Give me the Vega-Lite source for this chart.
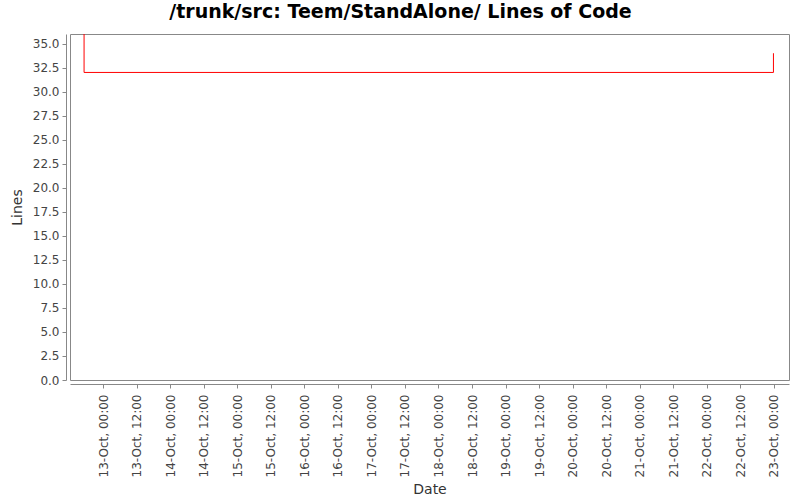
{
  "$schema": "https://vega.github.io/schema/vega-lite/v6.json",
  "width": 719,
  "height": 346,
  "autosize": "none",
  "padding": {"left": 70, "top": 34, "right": 11, "bottom": 120},
  "background": "white",
  "title": {
    "text": "/trunk/src: Teem/StandAlone/ Lines of Code",
    "font": "DejaVu Sans",
    "fontSize": 19,
    "fontWeight": "bold",
    "color": "black",
    "anchor": "middle",
    "frame": "group",
    "dx": -29,
    "offset": 12
  },
  "config": {
    "view": {"stroke": "#888888", "strokeWidth": 1},
    "axis": {
      "labelFont": "DejaVu Sans",
      "labelFontSize": 12,
      "labelColor": "#444444",
      "titleFont": "DejaVu Sans",
      "titleFontSize": 14,
      "titleFontWeight": "normal",
      "titleColor": "#333333",
      "domainColor": "#888888",
      "tickColor": "#888888",
      "tickSize": 4,
      "grid": false,
      "offset": 4
    }
  },
  "data": {
    "values": [
      {"date": "2008-10-12T17:10:00Z", "lines": 36},
      {"date": "2008-10-12T17:12:00Z", "lines": 32},
      {"date": "2008-10-22T23:50:00Z", "lines": 34}
    ]
  },
  "mark": {"type": "line", "interpolate": "step-after", "color": "#ff0000", "strokeWidth": 1, "clip": true},
  "encoding": {
    "x": {
      "field": "date",
      "type": "temporal",
      "title": "Date",
      "scale": {
        "type": "utc",
        "domain": [
          {"year": 2008, "month": 10, "date": 12, "hours": 12, "minutes": 10, "utc": true},
          {"year": 2008, "month": 10, "date": 23, "hours": 5, "minutes": 24, "utc": true}
        ]
      },
      "axis": {
        "labelExpr": "utcFormat(datum.value, '%d-%b, %H:%M')",
        "labelAngle": 270,
        "labelAlign": "right",
        "labelBaseline": "middle",
        "labelPadding": 6,
        "titlePadding": 6,
        "values": [
          {"year": 2008, "month": 10, "date": 13, "hours": 0, "utc": true},
          {"year": 2008, "month": 10, "date": 13, "hours": 12, "utc": true},
          {"year": 2008, "month": 10, "date": 14, "hours": 0, "utc": true},
          {"year": 2008, "month": 10, "date": 14, "hours": 12, "utc": true},
          {"year": 2008, "month": 10, "date": 15, "hours": 0, "utc": true},
          {"year": 2008, "month": 10, "date": 15, "hours": 12, "utc": true},
          {"year": 2008, "month": 10, "date": 16, "hours": 0, "utc": true},
          {"year": 2008, "month": 10, "date": 16, "hours": 12, "utc": true},
          {"year": 2008, "month": 10, "date": 17, "hours": 0, "utc": true},
          {"year": 2008, "month": 10, "date": 17, "hours": 12, "utc": true},
          {"year": 2008, "month": 10, "date": 18, "hours": 0, "utc": true},
          {"year": 2008, "month": 10, "date": 18, "hours": 12, "utc": true},
          {"year": 2008, "month": 10, "date": 19, "hours": 0, "utc": true},
          {"year": 2008, "month": 10, "date": 19, "hours": 12, "utc": true},
          {"year": 2008, "month": 10, "date": 20, "hours": 0, "utc": true},
          {"year": 2008, "month": 10, "date": 20, "hours": 12, "utc": true},
          {"year": 2008, "month": 10, "date": 21, "hours": 0, "utc": true},
          {"year": 2008, "month": 10, "date": 21, "hours": 12, "utc": true},
          {"year": 2008, "month": 10, "date": 22, "hours": 0, "utc": true},
          {"year": 2008, "month": 10, "date": 22, "hours": 12, "utc": true},
          {"year": 2008, "month": 10, "date": 23, "hours": 0, "utc": true}
        ]
      }
    },
    "y": {
      "field": "lines",
      "type": "quantitative",
      "title": "Lines",
      "scale": {"domain": [0, 36], "nice": false, "zero": true},
      "axis": {
        "format": ".1f",
        "values": [0, 2.5, 5, 7.5, 10, 12.5, 15, 17.5, 20, 22.5, 25, 27.5, 30, 32.5, 35],
        "labelPadding": 3,
        "titlePadding": 8
      }
    }
  }
}
